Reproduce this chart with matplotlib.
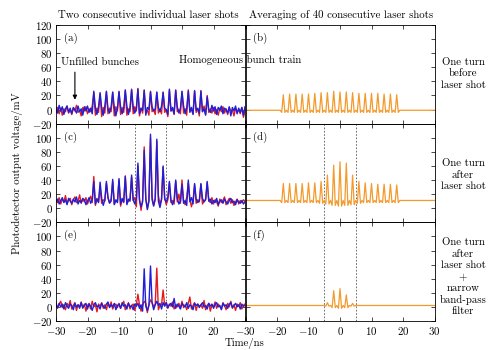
import numpy as np
import matplotlib
matplotlib.use("Agg")
import matplotlib.pyplot as plt

plt.rcParams["font.family"] = "serif"
plt.rcParams["font.serif"] = ["cmr10"]
plt.rcParams["mathtext.fontset"] = "cm"
plt.rcParams["axes.formatter.use_mathtext"] = True
plt.rcParams["font.size"] = 7.8

RED = "#e41a1c"
BLUE = "#1f1fd8"
ORANGE = "#f39a2c"

# time grid of the scope traces (0.5 ns steps)
t_ns = np.linspace(-30, 30, 121)
bunch_t = [-18, -16, -14, -12, -10, -8, -6, -4, -2, 0, 2, 4, 6, 8, 10, 12, 14, 16, 18]
center_t = [-4, -2, 0, 2, 4]

# (a) one turn before laser shot, two single shots
noise_a_red = [-4, 3, -6, 2, -8, 1, -3, 5, -5, 0, -7, 2, -2, 6, -4, -1, -9, 3, -2, 4,
               -6, 1, -3, 5, -2, -8, 2, -4, 0, -10, 3, -5, 1, -6, 2, -3, -1, -9, 4, -2,
               0, -7, 3, -4, 2, -8, 1, -3, 0, -6, 4, -2, 1, -9, 2, -5, 3, -4, -1, -8,
               2, -3, 0, -7, 3, -5, 1, -6, 2, -4, 0, -10, 3, -2, 1, -7, 4, -3, 0, -6,
               2, -5, 1, -8, 3, -2, 0, -6, 2, -4, 1, -9, 3, -3, 5, -7, 2, -4, 1, -5,
               3, -6, 0, -8, 2, -3, 4, -5, 1, -7, 3, -2, -1, -9, 2, -4, 0, -6, 3, -11, -2]
noise_a_blue = [3, -5, 6, -2, 4, -7, 1, 5, -4, 2, -6, 3, 0, -5, 5, -3, 1, -8, 4, -2,
                5, -4, 2, -6, 1, 3, -7, 4, -1, 2, -8, 5, -3, 1, -5, 4, -2, 3, -9, 2,
                -1, 4, -6, 2, 0, 5, -7, 3, -2, 4, -5, 1, 3, -6, 2, -1, 5, -8, 3, 0,
                -4, 4, -2, 1, -6, 3, -3, 5, -5, 2, 0, -7, 4, -2, 3, -6, 1, 4, -5, 2,
                -3, 5, -6, 2, 0, -4, 3, -7, 4, -1, 2, -5, 5, -3, 1, -8, 3, 0, -4, 6,
                -2, 4, -7, 3, -1, 5, -6, 2, 0, -5, 4, -9, 3, -2, 5, -6, 2, -4, 3, -8, 4]
peaks_a_red = [24, 22, 25, 24, 26, 27, 29, 30, 28, 26, 24, 25, 27, 28, 25, 28, 26, 27, 20]
peaks_a_blue = [26, 24, 26, 25, 25, 28, 28, 29, 27, 25, 25, 24, 29, 27, 26, 26, 27, 26, 18]

# (c) one turn after laser shot, two single shots
noise_c_red = [12, 8, 15, 6, 13, 9, 18, 7, 11, 14, 5, 12, 16, 8, 10, 19, 7, 13, 9, 15,
               6, 12, 17, 8, 11, 4, 14, 9, 16, 7, 12, 10, 5, 15, 8, 13, 18, 6, 11, 9,
               14, 3, 12, 8, 16, 7, 10, 13, 5, 11, 15, 2, 9, 13, -3, 12, 6, 14, 0, 11,
               8, 16, 4, 12, 9, 18, 6, 13, 10, 15, 5, 12, 17, 8, 11, 6, 14, 9, 20, 7,
               12, 10, 5, 16, 8, 13, 2, 11, 15, 7, 12, 9, 14, 6, 10, 13, 4, 11, 8, 15,
               6, 12, 9, 3, 13, 8, 11, 16, 5, 10, 14, 7, 12, 4, 9, 13, 6, 11, 8, 12, 10]
noise_c_blue = [9, 13, 6, 11, 15, 8, 12, 5, 14, 10, 7, 13, 9, 16, 6, 11, 8, 14, 12, 5,
                10, 15, 7, 12, 9, 6, 13, 8, 11, 14, 4, 12, 9, 15, 7, 10, 13, 5, 12, 8,
                11, 6, 14, 9, 12, 5, 13, 10, 7, 12, 6, 14, 4, 11, 2, 9, 5, 13, -2, 10,
                6, 12, 3, 14, 8, 10, 1, 12, 6, 13, 9, 15, 7, 11, 5, 12, 9, 14, 6, 10,
                13, 7, 11, 4, 12, 9, 15, 6, 10, 13, 8, 11, 5, 14, 9, 12, 7, 10, 13, 6,
                11, 8, 14, 5, 10, 12, 7, 13, 9, 6, 11, 14, 8, 10, 5, 12, 9, 7, 11, 6, 9]
peaks_c_red = [45, 30, 35, 38, 40, 46, 44, 60, 87, 100, 95, 58, 36, 38, 40, 36, 33, 34, 36]
peaks_c_blue = [38, 37, 38, 41, 42, 45, 47, 64, 82, 105, 98, 60, 38, 40, 34, 40, 35, 35, 38]

# (e) one turn after laser shot + band-pass filter, two single shots
noise_e_red = [6, -2, 4, 8, -1, 3, -4, 5, 1, 9, -3, 2, 6, -5, 3, 0, 7, -2, 4, -6,
               2, 5, -3, 8, 0, 3, -7, 4, 1, 6, -2, 3, -4, 5, 0, 7, -3, 2, 4, -1,
               5, -2, 3, 8, -4, 1, 6, -3, 2, 4, -5, 3, 0, 3, -6, 2, 0, 5, -8, 3,
               1, 6, 0, 4, 0, -4, 2, 3, -5, 2, 6, -2, 4, 1, 7, -3, 3, 0, 5, -2,
               8, -1, 3, -4, 5, 14, -3, 2, 6, -5, 4, 1, 3, -2, 9, -4, 2, 5, -6, 3,
               0, 7, -2, 4, 1, -3, 6, 2, -4, 5, 0, 8, -2, 3, -5, 4, 1, 6, -3, 2, 4]
noise_e_blue = [3, -1, 5, 0, 4, -3, 6, 1, -2, 4, 2, -4, 5, 0, 3, -2, 6, -1, 2, 5,
                -3, 4, 1, -5, 3, 6, 0, 2, -3, 5, 1, -2, 4, 7, -1, 3, 0, 5, -4, 2,
                4, -2, 6, 1, 3, -3, 5, 0, 2, -4, 4, 1, 5, -2, 3, -6, 4, 1, -5, 2,
                0, 6, -4, 3, 0, 2, 5, -3, 4, 1, 6, -1, 3, 5, 0, 12, -2, 4, 1, -3,
                5, 2, 0, 6, -2, 3, 1, -4, 5, 2, 4, -1, 3, 6, 0, 2, -3, 5, 1, 4,
                -2, 3, 6, 0, 2, -4, 5, 1, 3, -2, 4, 6, -1, 2, 5, 0, 3, -3, 4, 1, 2]
peaks_e_red = [18, 8, 10, 55, 24]
peaks_e_blue = [5, 54, 58, 8, 6]

# averaged traces (b), (d), (f)
base_b = -1
peaks_b = [21, 22, 22, 22, 22, 23, 24, 24, 26, 25, 25, 24, 23, 23, 23, 23, 22, 22, 21]
trough_b = -4
base_d = 11
peaks_d = [35, 35, 35, 35, 36, 36, 38, 47, 61, 66, 64, 47, 38, 36, 35, 34, 34, 34, 33]
troughs_d = [8, 8, 8, 8, 8, 8, 7, 6, 4, 3, 4, 5, 7, 8, 8, 8, 8, 8, 8]
base_f = 2
peaks_f = [6, 23, 26, 17, 5]
troughs_f = [1, -1, -2, -1, 1]


def with_peaks(noise, times, heights):
    y = np.array(noise, dtype=float)
    idx = np.searchsorted(t_ns, times)
    y[idx] = heights
    return y


def averaged(base, times, heights, troughs):
    y = np.full(t_ns.size, float(base))
    idx = np.searchsorted(t_ns, times)
    y[idx - 1] = troughs
    y[idx + 1] = troughs
    y[idx] = heights
    return y


fig = plt.figure(figsize=(5, 3.5), dpi=100)
lefts = [0.112, 0.491]
w = 0.378
h = 0.2819
bottoms = [0.6467, 0.3648, 0.0829]
axes = [[fig.add_axes([l, b, w, h]) for l in lefts] for b in bottoms]

pairs = [
    (with_peaks(noise_a_red, bunch_t, peaks_a_red), with_peaks(noise_a_blue, bunch_t, peaks_a_blue)),
    (with_peaks(noise_c_red, bunch_t, peaks_c_red), with_peaks(noise_c_blue, bunch_t, peaks_c_blue)),
    (with_peaks(noise_e_red, center_t, peaks_e_red), with_peaks(noise_e_blue, center_t, peaks_e_blue)),
]
avgs = [
    averaged(base_b, bunch_t, peaks_b, trough_b),
    averaged(base_d, bunch_t, peaks_d, troughs_d),
    averaged(base_f, center_t, peaks_f, troughs_f),
]
labels = [["(a)", "(b)"], ["(c)", "(d)"], ["(e)", "(f)"]]
xt = [-30, -20, -10, 0, 10, 20, 30]
yt = [-20, 0, 20, 40, 60, 80, 100, 120]

for r in range(3):
    axl, axr = axes[r]
    axl.plot(t_ns, pairs[r][0], color=RED, lw=1.0)
    axl.plot(t_ns, pairs[r][1], color=BLUE, lw=1.0)
    axr.plot(t_ns, avgs[r], color=ORANGE, lw=0.9)
    for c, ax in enumerate((axl, axr)):
        ax.set_facecolor("none")
        ax.set_xlim(-30, 30)
        ax.set_ylim(-20, 120)
        ax.set_xticks(xt)
        ax.set_yticks(yt)
        ax.tick_params(direction="in", top=True, right=True, length=3, width=0.5)
        ax.tick_params(axis="x", pad=3)
        ax.tick_params(axis="y", pad=2.5)
        for s in ax.spines.values():
            s.set_linewidth(0.6)
        if r < 2:
            ax.set_xticklabels([])
        else:
            ax.set_xticklabels(["$%d$" % v if (c == 1 or v < 30) else "" for v in xt])
        if c == 1:
            ax.set_yticklabels([])
        else:
            ax.set_yticklabels(["$%d$" % v if (r == 0 or v < 120) else "" for v in yt])
        ax.text(-27.5, 101, labels[r][c], ha="left", va="center")
        if r > 0:
            for xv in (-5, 5):
                ax.axvline(xv, color="#555555", lw=0.6, ls=(0, (2, 2)), zorder=0)

axa = axes[0][0]
axa.text(-28.4, 67, "Unfilled bunches", ha="left", va="center")
axa.annotate("", xy=(-24, 10), xytext=(-24, 57),
             arrowprops=dict(arrowstyle="-|>", color="black", lw=0.8, mutation_scale=6))
axa.text(9, 70, "Homogeneous bunch train", ha="left", va="center", clip_on=False)

fig.text(0.297, 0.957, "Two consecutive individual laser shots", ha="center", va="center")
fig.text(0.682, 0.957, "Averaging of 40 consecutive laser shots", ha="center", va="center")
fig.text(0.034, 0.506, "Photodetector output voltage/mV", rotation=90, ha="center", va="center")
fig.text(0.49, 0.018, "Time/ns", ha="center", va="center")
fig.text(0.926, 0.79, "One turn\nbefore\nlaser shot", ha="center", va="center", linespacing=1.25)
fig.text(0.926, 0.5, "One turn\nafter\nlaser shot", ha="center", va="center", linespacing=1.25)
fig.text(0.926, 0.209, "One turn\nafter\nlaser shot\n+\nnarrow\nband-pass\nfilter",
         ha="center", va="center", linespacing=1.25)

fig.savefig("out.png", dpi=100)
